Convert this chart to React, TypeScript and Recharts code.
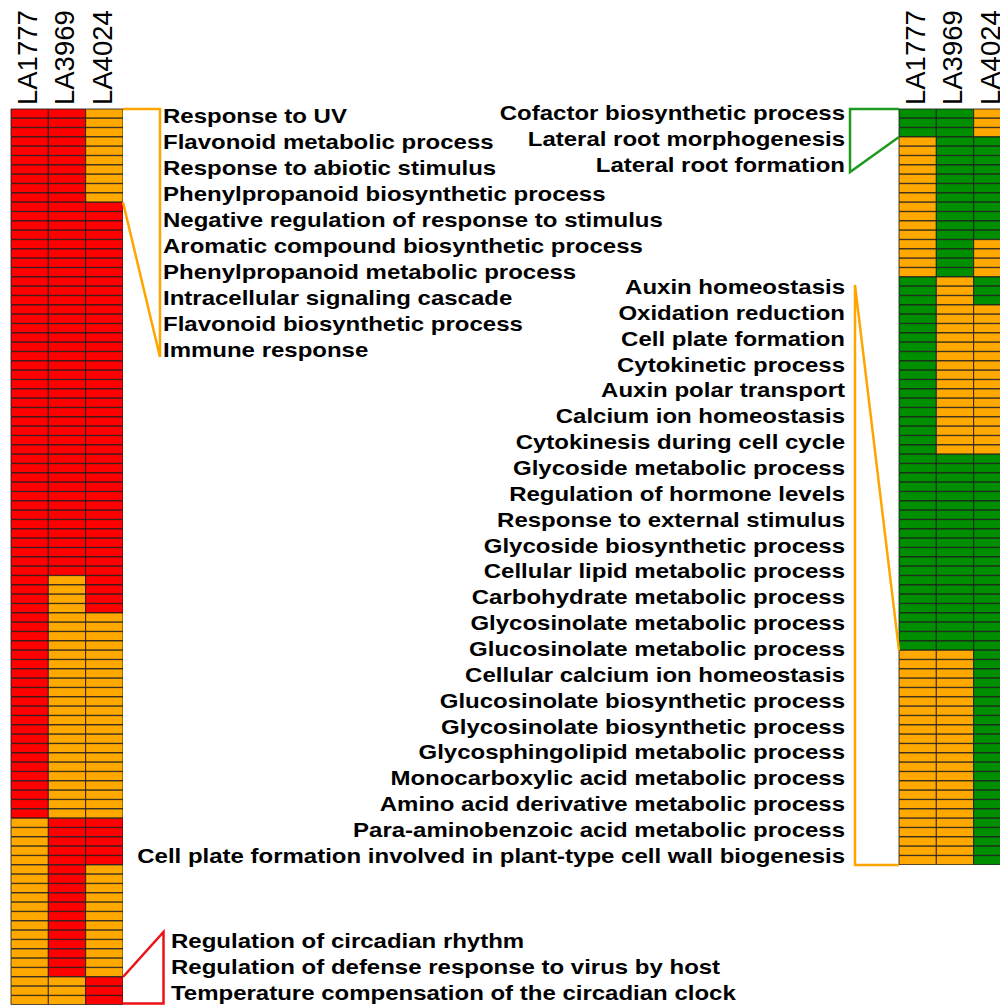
import React from 'react';
import { BarChart, Bar, XAxis, YAxis, Cell } from 'recharts';

// ---------- data ----------
const samples = ['LA1777', 'LA3969', 'LA4024'];

// run-length blocks of rows: n rows sharing the code (one letter per sample)
// R = red, O = orange, G = green
const leftBlocks = [
  { n: 10, code: 'RRO' },
  { n: 40, code: 'RRR' },
  { n: 4, code: 'ROR' },
  { n: 22, code: 'ROO' },
  { n: 5, code: 'ORR' },
  { n: 12, code: 'ORO' },
  { n: 3, code: 'OOR' },
];
const rightBlocks = [
  { n: 3, code: 'GGO' },
  { n: 11, code: 'OGG' },
  { n: 4, code: 'OGO' },
  { n: 3, code: 'GOG' },
  { n: 16, code: 'GOO' },
  { n: 21, code: 'GGG' },
  { n: 23, code: 'OOG' },
];

const leftTopTerms = [
  'Response to UV',
  'Flavonoid metabolic process',
  'Response to abiotic stimulus',
  'Phenylpropanoid biosynthetic process',
  'Negative regulation of response to stimulus',
  'Aromatic compound biosynthetic process',
  'Phenylpropanoid metabolic process',
  'Intracellular signaling cascade',
  'Flavonoid biosynthetic process',
  'Immune response',
];
const leftBottomTerms = [
  'Regulation of circadian rhythm',
  'Regulation of defense response to virus by host',
  'Temperature compensation of the circadian clock',
];
const rightTopTerms = [
  'Cofactor biosynthetic process',
  'Lateral root morphogenesis',
  'Lateral root formation',
];
const rightMidTerms = [
  'Auxin homeostasis',
  'Oxidation reduction',
  'Cell plate formation',
  'Cytokinetic process',
  'Auxin polar transport',
  'Calcium ion homeostasis',
  'Cytokinesis during cell cycle',
  'Glycoside metabolic process',
  'Regulation of hormone levels',
  'Response to external stimulus',
  'Glycoside biosynthetic process',
  'Cellular lipid metabolic process',
  'Carbohydrate metabolic process',
  'Glycosinolate metabolic process',
  'Glucosinolate metabolic process',
  'Cellular calcium ion homeostasis',
  'Glucosinolate biosynthetic process',
  'Glycosinolate biosynthetic process',
  'Glycosphingolipid metabolic process',
  'Monocarboxylic acid metabolic process',
  'Amino acid derivative metabolic process',
  'Para-aminobenzoic acid metabolic process',
  'Cell plate formation involved in plant-type cell wall biogenesis',
];

// ---------- style ----------
const COLORS: Record<string, string> = { R: '#ff0000', O: '#ffa800', G: '#008f00' };
const FONT = '"Liberation Sans", Arial, Helvetica, sans-serif';
const PLOT_TOP = 109;
const ROW_H = 9.333;
const COL_W = 37.33;
const L_LEFT = 11;
const R_LEFT = 899;

type Row = { id: string; c0: number; c1: number; c2: number; k0: string; k1: string; k2: string };

function expand(blocks: { n: number; code: string }[], prefix: string): Row[] {
  const rows: Row[] = [];
  blocks.forEach((b) => {
    for (let i = 0; i < b.n; i++) {
      rows.push({
        id: prefix + rows.length,
        c0: 1,
        c1: 1,
        c2: 1,
        k0: b.code[0],
        k1: b.code[1],
        k2: b.code[2],
      });
    }
  });
  return rows;
}

const leftRows = expand(leftBlocks, 'L');
const rightRows = expand(rightBlocks, 'R');

const HeaderTick = (props: any) => {
  const { x, payload } = props;
  const name = samples[Math.floor(payload.value)];
  const bx = x + 7.5;
  const by = PLOT_TOP - 4;
  return (
    <text
      x={bx}
      y={by}
      transform={`rotate(-90, ${bx}, ${by})`}
      textAnchor="start"
      fontFamily={FONT}
      fontSize={27.5}
      fill="#000"
    >
      {name}
    </text>
  );
};

function Heatmap({ rows, left }: { rows: Row[]; left: number }) {
  const width = left + 3 * COL_W;
  const height = PLOT_TOP + rows.length * ROW_H;
  return (
    <BarChart
      width={width}
      height={height}
      data={rows}
      layout="vertical"
      margin={{ top: 0, right: 0, bottom: 0, left }}
      barCategoryGap={0}
      barGap={0}
    >
      <XAxis
        type="number"
        orientation="top"
        domain={[0, 3]}
        ticks={[0.5, 1.5, 2.5]}
        height={PLOT_TOP}
        axisLine={false}
        tickLine={false}
        tick={<HeaderTick />}
        interval={0}
      />
      <YAxis type="category" dataKey="id" hide />
      {(['c0', 'c1', 'c2'] as const).map((key, ci) => (
        <Bar key={key} dataKey={key} stackId="s" isAnimationActive={false}>
          {rows.map((r, i) => (
            <Cell
              key={i}
              fill={COLORS[(r as any)['k' + ci]]}
              stroke="#151515"
              strokeWidth={0.8}
            />
          ))}
        </Bar>
      ))}
    </BarChart>
  );
}

const edge = (i: number) => PLOT_TOP + i * ROW_H;
const L_RIGHT = L_LEFT + 3 * COL_W;

function Label({ x, y, text, anchor }: { x: number; y: number; text: string; anchor: 'start' | 'end' }) {
  return (
    <text
      transform={`translate(${x},${y}) scale(1.2,1)`}
      textAnchor={anchor}
      fontFamily={FONT}
      fontWeight="bold"
      fontSize={20}
      fill="#000"
    >
      {text}
    </text>
  );
}

export default function App() {
  return (
    <div
      style={{
        position: 'absolute',
        left: 0,
        top: 0,
        width: 1000,
        height: 1006,
        overflow: 'hidden',
        background: '#fff',
      }}
    >
      <div style={{ position: 'absolute', left: 0, top: 0 }}>
        <Heatmap rows={leftRows} left={L_LEFT} />
      </div>
      <div style={{ position: 'absolute', left: 0, top: 0 }}>
        <Heatmap rows={rightRows} left={R_LEFT} />
      </div>
      <svg
        width={1000}
        height={1006}
        style={{ position: 'absolute', left: 0, top: 0, pointerEvents: 'none' }}
      >
        {/* brackets */}
        <polyline
          points={`${L_RIGHT},${edge(0)} 160,${edge(0)} 160,357 ${L_RIGHT},${edge(10)}`}
          fill="none"
          stroke="#ffa500"
          strokeWidth={2.5}
        />
        <polyline
          points={`${L_RIGHT},${edge(93)} 163.5,932 163.5,${edge(96) - 1.5} ${L_RIGHT},${edge(96) - 1.5}`}
          fill="none"
          stroke="#ee1111"
          strokeWidth={2.5}
        />
        <polyline
          points={`${R_LEFT},${edge(0)} 850,${edge(0)} 850,172 ${R_LEFT},${edge(3)}`}
          fill="none"
          stroke="#1e9a1e"
          strokeWidth={2.5}
        />
        <polyline
          points={`${R_LEFT},${edge(58)} 855,285 855,${edge(81)} ${R_LEFT},${edge(81)}`}
          fill="none"
          stroke="#ffa500"
          strokeWidth={2.5}
        />
        {/* labels */}
        {leftTopTerms.map((t, i) => (
          <Label key={t} x={163} y={123.3 + i * 26} text={t} anchor="start" />
        ))}
        {leftBottomTerms.map((t, i) => (
          <Label key={t} x={171} y={948 + i * 26} text={t} anchor="start" />
        ))}
        {rightTopTerms.map((t, i) => (
          <Label key={t} x={845} y={120 + i * 26} text={t} anchor="end" />
        ))}
        {rightMidTerms.map((t, i) => (
          <Label key={t} x={845} y={294 + i * 25.86} text={t} anchor="end" />
        ))}
      </svg>
    </div>
  );
}
